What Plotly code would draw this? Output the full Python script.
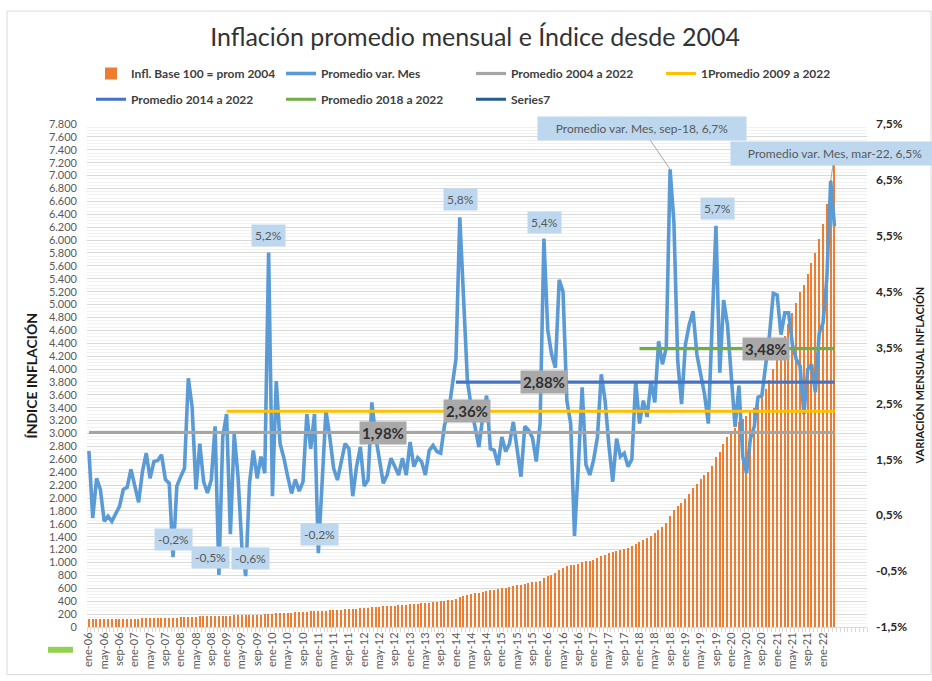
import plotly.graph_objects as go

# ---------------- DATA ----------------
MESES = ["ene", "feb", "mar", "abr", "may", "jun", "jul", "ago", "sep", "oct", "nov", "dic"]
ANIOS = list(range(2006, 2023))
CATEGORIAS = [f"{m}-{str(a)[2:]}" for a in ANIOS for m in MESES]  # ene-06 ... dic-22

# Índice inflación (base 100 = promedio 2004), ene-06 .. abr-22
INDICE = [
    118, 119, 120, 121, 122, 122, 123, 123, 124, 125, 127, 128,
    130, 130, 132, 134, 136, 138, 140, 142, 144, 145, 145, 146,
    148, 150, 154, 158, 160, 163, 164, 166, 168, 171, 170, 173,
    177, 178, 181, 183, 183, 182, 184, 187, 189, 192, 195, 205,
    207, 213, 216, 220, 222, 224, 227, 229, 231, 237, 241, 246,
    246, 249, 254, 259, 263, 266, 270, 274, 279, 281, 285, 290,
    295, 298, 304, 310, 314, 318, 322, 327, 331, 335, 340, 344,
    351, 356, 361, 366, 371, 377, 384, 390, 396, 405, 414, 426,
    440, 465, 487, 502, 515, 526, 535, 547, 562, 571, 581, 589,
    600, 610, 621, 634, 645, 653, 666, 680, 693, 703, 718, 757,
    786, 812, 838, 877, 917, 940, 960, 962, 975, 1002, 1016, 1029,
    1044, 1064, 1096, 1124, 1143, 1156, 1178, 1196, 1215, 1232, 1250, 1287,
    1314, 1348, 1378, 1418, 1454, 1507, 1555, 1609, 1717, 1815, 1874, 1921,
    1989, 2067, 2152, 2225, 2292, 2353, 2404, 2493, 2635, 2715, 2833, 2944,
    3029, 3092, 3179, 3228, 3268, 3329, 3398, 3487, 3579, 3694, 3832, 4003,
    4181, 4337, 4516, 4702, 4869, 5029, 5188, 5308, 5473, 5648, 5801, 6019,
    6256, 6553, 6930, 7200,
]

# Variación mensual (%), ene-06 .. abr-22
VAR_MES = [
    1.65, 0.45, 1.16, 0.96, 0.39, 0.48, 0.39, 0.54, 0.66, 0.96, 1.00, 1.32,
    1.05, 0.73, 1.28, 1.61, 1.16, 1.46, 1.48, 1.58, 1.14, 1.07, -0.25, 1.02,
    1.19, 1.34, 2.95, 2.43, 0.96, 1.78, 1.10, 0.90, 1.13, 2.09, -0.57, 1.90,
    2.31, 0.16, 1.95, 1.19, -0.05, -0.59, 1.07, 1.66, 1.16, 1.55, 1.25, 5.20,
    0.84, 2.90, 1.78, 1.52, 1.19, 0.89, 1.14, 0.93, 1.10, 2.31, 1.69, 2.31,
    -0.18, 1.10, 2.37, 1.90, 1.34, 1.13, 1.46, 1.78, 1.69, 0.84, 1.37, 1.72,
    1.02, 1.13, 2.52, 1.90, 1.49, 1.07, 1.22, 1.52, 1.37, 1.22, 1.52, 1.22,
    1.81, 1.37, 1.53, 1.46, 1.22, 1.66, 1.75, 1.64, 1.61, 2.11, 2.31, 2.79,
    3.30, 5.83, 4.50, 2.90, 2.43, 2.05, 1.72, 2.26, 2.64, 1.69, 1.66, 1.40,
    1.90, 1.64, 1.78, 2.17, 1.69, 1.19, 2.09, 2.02, 1.89, 1.46, 2.14, 5.45,
    3.82, 3.38, 3.14, 4.71, 4.50, 2.55, 2.14, 0.13, 1.37, 2.79, 1.40, 1.22,
    1.49, 1.90, 3.02, 2.55, 1.75, 1.10, 1.87, 1.55, 1.61, 1.37, 1.50, 2.90,
    2.14, 2.55, 2.26, 2.90, 2.52, 3.61, 3.20, 3.50, 6.69, 5.74, 3.26, 2.49,
    3.55, 3.91, 4.15, 3.38, 3.02, 2.67, 2.14, 3.73, 5.68, 3.05, 4.35, 3.91,
    2.90, 2.08, 2.82, 1.55, 1.25, 1.87, 2.08, 2.61, 2.64, 3.20, 3.73, 4.47,
    4.44, 3.73, 4.12, 4.12, 3.55, 3.29, 3.17, 2.31, 3.11, 3.20, 2.70, 3.76,
    3.94, 4.74, 6.48, 5.67,
]

# Promedios (valor %, mes inicial, mes final)
PROMEDIOS_NOMBRES = ["Promedio 2004 a 2022", "1Promedio 2009 a 2022", "Promedio 2014 a 2022", "Promedio 2018 a 2022"]
PROMEDIOS_VALORES = [1.98, 2.36, 2.88, 3.48]
PROMEDIOS_DESDE = ["ene-06", "ene-09", "ene-14", "ene-18"]
PROMEDIOS_HASTA = ["abr-22", "abr-22", "abr-22", "abr-22"]
PROMEDIOS_ETIQ_MES = ["jun-12", "abr-14", "dic-15", "oct-20"]
PROMEDIOS_COLORES = ["#A5A5A5", "#FFC000", "#4472C4", "#70AD47"]

# Etiquetas de datos de la serie mensual
ETIQ_MESES = ["dic-09", "feb-14", "dic-15", "sep-19", "nov-07", "nov-08", "jun-09", "ene-11"]
ETIQ_TEXTOS = ["5,2%", "5,8%", "5,4%", "5,7%", "-0,2%", "-0,5%", "-0,6%", "-0,2%"]

# Eje derecho
Y2_TICKS = [-1.5, -0.5, 0.5, 1.5, 2.5, 3.5, 4.5, 5.5, 6.5, 7.5]
Y2_TEXTOS = ["-1,5%", "-0,5%", "0,5%", "1,5%", "2,5%", "3,5%", "4,5%", "5,5%", "6,5%", "7,5%"]

# ---------------- FIGURE ----------------
idx = list(range(len(INDICE)))
pos = {c: i for i, c in enumerate(CATEGORIAS)}
FONT = "Lato"

fig = go.Figure()

fig.add_trace(go.Bar(
    x=idx, y=INDICE, name="Infl. Base 100 = prom 2004",
    marker=dict(color="#ED7D31", line=dict(width=0)), width=0.34,
    yaxis="y", legend="legend",
))
fig.add_trace(go.Scatter(
    x=idx, y=VAR_MES, name="Promedio var. Mes", mode="lines",
    line=dict(color="#5B9BD5", width=3.6), yaxis="y2", legend="legend",
))
for k, (nm, val, d, h, col) in enumerate(zip(PROMEDIOS_NOMBRES, PROMEDIOS_VALORES,
                                            PROMEDIOS_DESDE, PROMEDIOS_HASTA, PROMEDIOS_COLORES)):
    fig.add_trace(go.Scatter(
        x=[pos[d], pos[h]], y=[val, val], name=nm, mode="lines",
        line=dict(color=col, width=3.2), yaxis="y2",
        legend="legend" if k < 2 else "legend2",
    ))
fig.add_trace(go.Scatter(
    x=[None], y=[None], name="Series7", mode="lines",
    line=dict(color="#255E91", width=3.2), yaxis="y2", legend="legend2",
))

ann = []
# blue data labels
offs = [0.30, 0.32, 0.29, 0.30, 0.31, 0.32, 0.32, 0.33]
dx = [0.07, 0.2, 0.2, 0.3, 0.2, -2.1, 1.2, 0.3]
for m, t, o, d in zip(ETIQ_MESES, ETIQ_TEXTOS, offs, dx):
    i = pos[m]
    ann.append(dict(x=i + d, y=VAR_MES[i] + o, xref="x", yref="y2", text=t, showarrow=False,
                    yanchor="middle", bgcolor="#BDD7EE", borderpad=3,
                    font=dict(family=FONT, size=12, color="#595959")))
# long labels with leader lines
for m, t, ax, ay in [("sep-18", "Promedio var. Mes, sep-18, 6,7%", -28, -41),
                      ("mar-22", "Promedio var. Mes, mar-22, 6,5%", 4, -28)]:
    i = pos[m]
    ann.append(dict(x=i, y=VAR_MES[i], xref="x", yref="y2", text=t, showarrow=True,
                    arrowhead=0, arrowwidth=1, arrowcolor="#A6A6A6", ax=ax, ay=ay,
                    bgcolor="#BDD7EE", borderpad=4, width=200, height=15,
                    font=dict(family=FONT, size=12, color="#595959")))
# average labels
for val, m in zip(PROMEDIOS_VALORES, PROMEDIOS_ETIQ_MES):
    txt = f"{val:.2f}%".replace(".", ",")
    ann.append(dict(x=pos[m], y=val, xref="x", yref="y2", text=f"<b>{txt}</b>", showarrow=False,
                    bgcolor="#A9A9A9", borderpad=2,
                    font=dict(family=FONT, size=15, color="#303030")))
# axis titles
ann.append(dict(x=(31 - 87) / 780, y=0.5, xref="paper", yref="paper", text="<b>ÍNDICE INFLACIÓN</b>",
                textangle=-90, showarrow=False, xanchor="center", yanchor="middle",
                font=dict(family=FONT, size=14, color="#1a1a1a")))
ann.append(dict(x=(919 - 87) / 780, y=0.5, xref="paper", yref="paper", text="<b>VARIACIÓN MENSUAL INFLACIÓN</b>",
                textangle=-90, showarrow=False, xanchor="center", yanchor="middle",
                font=dict(family=FONT, size=11, color="#1a1a1a")))
fig.update_layout(annotations=ann)

shapes = [
    dict(type="rect", xref="paper", yref="paper", x0=-0.1026, x1=1.0821, y0=-0.0945, y1=1.2244,
         line=dict(color="#D9D9D9", width=1), layer="below"),
    dict(type="rect", xref="paper", yref="paper", x0=-0.050, x1=-0.018, y0=-0.0512, y1=-0.0394,
         line=dict(width=0), fillcolor="#92D050"),
]

tickvals = list(range(0, pos["ene-22"] + 1, 4))
fig.update_layout(
    width=932, height=681,
    margin=dict(l=87, r=65, t=124, b=49),
    paper_bgcolor="white", plot_bgcolor="white",
    separators=",.",
    shapes=shapes,
    title=dict(text="Inflación promedio mensual e Índice desde 2004", x=0.5097, xanchor="center",
               y=1 - 37 / 681, yanchor="middle",
               font=dict(family=FONT, size=25, color="#333333")),
    bargap=0,
    xaxis=dict(range=[-0.5, len(CATEGORIAS) - 0.5], tickmode="array", tickvals=tickvals,
               ticktext=[CATEGORIAS[i] for i in tickvals], tickangle=-90,
               tickfont=dict(family=FONT, size=11, color="#595959"),
               showgrid=False, zeroline=False, showline=True, linecolor="#D9D9D9",
               ticks="", minor=dict(ticks="outside", ticklen=4, tickcolor="#D9D9D9", dtick=1, tick0=0.5)),
    yaxis=dict(range=[0, 7800], dtick=200, tickformat=",d",
               tickfont=dict(family=FONT, size=11, color="#595959"),
               showgrid=True, gridcolor="#D9D9D9", gridwidth=1, zeroline=False, showline=False,
               ticklabelstandoff=9,
               minor=dict(dtick=50, showgrid=True, gridcolor="#F2F2F2")),
    yaxis2=dict(range=[-1.5, 7.5], overlaying="y", side="right",
                tickmode="array", tickvals=Y2_TICKS, ticktext=Y2_TEXTOS,
                showgrid=False, zeroline=False, showline=False,
                tickfont=dict(family=FONT, size=12, color="#262626", weight="bold"),
                ticklabelstandoff=8),
    legend=dict(orientation="h", x=(91 - 87) / 780, y=(632 - 73) / 508, xanchor="left", yanchor="middle",
                entrywidth=145, entrywidthmode="pixels", bgcolor="rgba(0,0,0,0)",
                font=dict(family=FONT, size=12, color="#404040", weight="bold"), itemwidth=30),
    legend2=dict(orientation="h", x=(91 - 87) / 780, y=(632 - 99) / 508, xanchor="left", yanchor="middle",
                 entrywidth=145, entrywidthmode="pixels", bgcolor="rgba(0,0,0,0)",
                 font=dict(family=FONT, size=12, color="#404040", weight="bold"), itemwidth=30),
    showlegend=True,
)

fig.write_html("out.html", config={"displayModeBar": False},
               post_script="document.body.style.margin='0px';")
